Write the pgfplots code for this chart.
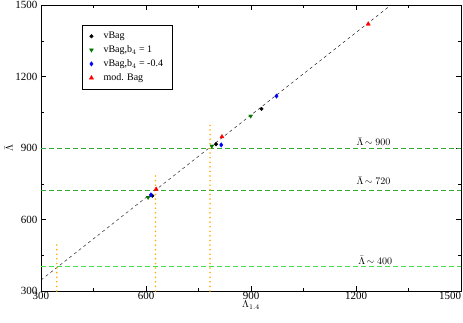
\documentclass[border=0pt]{standalone}
\usepackage{fontspec}
\setmainfont{Liberation Serif}
\usepackage{pgfplots}
\pgfplotsset{compat=1.18}
\definecolor{dkgreen}{RGB}{50,170,50}
\definecolor{lightgr}{RGB}{70,225,70}
\definecolor{orng}{RGB}{255,175,0}
\definecolor{mkgreen}{RGB}{0,120,0}
\begin{document}
\begin{tikzpicture}
\begin{axis}[
  name=ax,
  scale only axis, width=420pt, height=286pt,
  xmin=300, xmax=1500, ymin=300, ymax=1500,
  xtick={300,600,900,1200,1500}, ytick={300,600,900,1200,1500},
  xticklabels={300,600,900,1200,\makebox[0pt][r]{1500}},
  minor tick num=1,
  tick align=inside,
  tick style={black, thin},
  major tick length=5pt, minor tick length=3pt,
  /pgf/number format/assume math mode=true,
  /pgf/number format/1000 sep={},
  ticklabel style={font=\fontsize{11}{12}\selectfont},
  xticklabel style={yshift=2pt},
  xlabel={$\Lambda_{1.4}$}, ylabel={$\bar{\Lambda}$},
  xlabel style={yshift=6pt}, ylabel style={yshift=-4pt},
  legend style={at={(0.098,0.93)}, anchor=north west, font=\fontsize{10}{13}\selectfont, draw=black, row sep=1.5pt, inner xsep=7pt, inner ysep=5pt,
    /tikz/every odd column/.append style={column sep=8pt}},
  legend cell align=left,
  clip=true,
]
\addplot[only marks, mark=*, mark size=1.8pt, black] coordinates {(618,700) (800,916) (930,1064)};
\addlegendentry{vBag}
\addplot[only marks, mark=triangle*, mark size=2.2pt, mkgreen, mark options={rotate=180}] coordinates {(606,693) (788,908) (899,1034)};
\addlegendentry{vBag,b$_4$ = 1}
\addplot[only marks, mark=diamond*, mark size=2.2pt, blue] coordinates {(614,703) (815,913) (973,1118)};
\addlegendentry{vBag,b$_4$ = -0.4}
\addplot[only marks, mark=triangle*, mark size=2.4pt, red] coordinates {(629,727) (817,947) (1235,1420)};
\addlegendentry{mod. Bag}
\addplot[black, dashed, thin, forget plot] coordinates {(300,346) (1300,1500)};
\addplot[dkgreen, line width=0.9pt, dash pattern=on 5pt off 3pt, forget plot] coordinates {(300,900) (1500,900)};
\addplot[dkgreen, line width=0.9pt, dash pattern=on 5pt off 3pt, forget plot] coordinates {(300,720) (1500,720)};
\addplot[lightgr, line width=1pt, dash pattern=on 5pt off 3pt, forget plot] coordinates {(300,401) (1500,401)};
\addplot[orng, line width=1.8pt, line cap=round, dash pattern=on 0pt off 4.6pt, forget plot] coordinates {(345,300) (345,507)};
\addplot[orng, line width=1.8pt, line cap=round, dash pattern=on 0pt off 4.6pt, forget plot] coordinates {(627,300) (627,796)};
\addplot[orng, line width=1.8pt, line cap=round, dash pattern=on 0pt off 4.6pt, forget plot] coordinates {(783,300) (783,1009)};
\node[font=\fontsize{10}{12}\selectfont] at (axis cs:1250,927) {$\bar{\Lambda}\!\sim 900$};
\node[font=\fontsize{10}{12}\selectfont] at (axis cs:1250,763) {$\bar{\Lambda}\!\sim 720$};
\node[font=\fontsize{10}{12}\selectfont] at (axis cs:1255,430) {$\bar{\Lambda}\!\sim 400$};
\end{axis}
\pgfresetboundingbox
\path ([xshift=-41pt,yshift=-31pt]ax.south west) rectangle ([xshift=2pt,yshift=5pt]ax.north east);
\end{tikzpicture}
\end{document}
